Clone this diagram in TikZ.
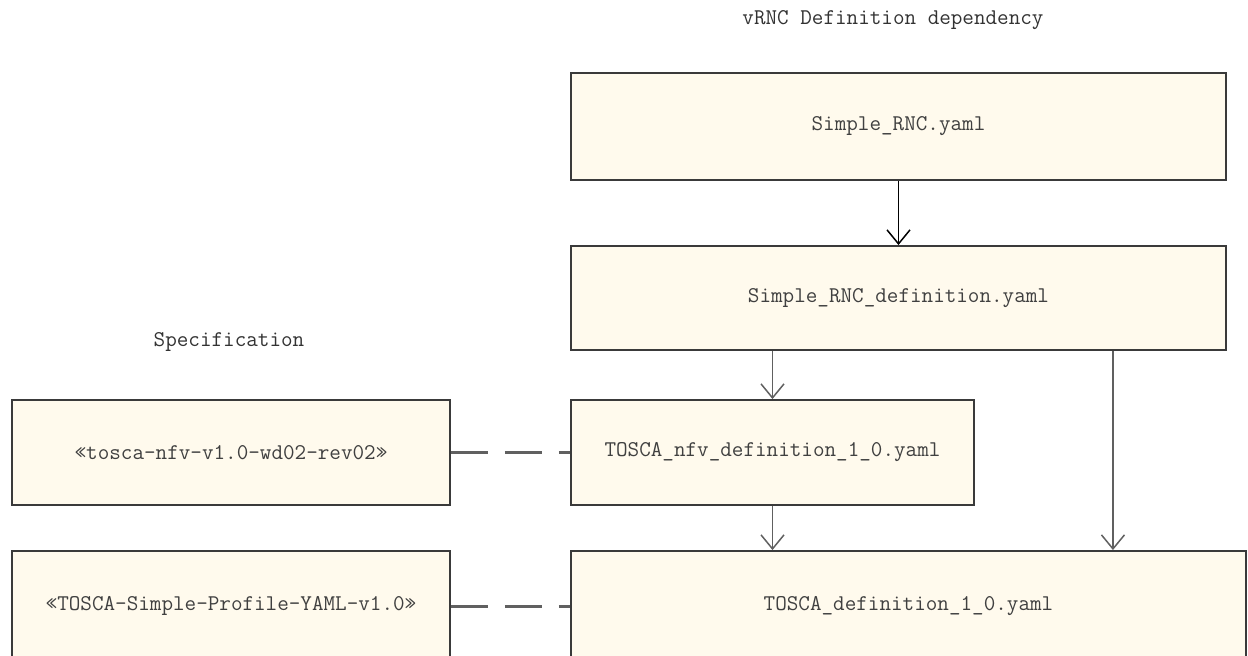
\documentclass[tikz,border=0pt]{standalone}
\usepackage{fontspec}
\usetikzlibrary{arrows.meta}
\definecolor{boxfill}{RGB}{255,250,237}
\definecolor{boxline}{RGB}{58,58,58}
\definecolor{linkgray}{RGB}{96,96,96}
\definecolor{txtgray}{RGB}{64,64,64}
\begin{document}
\begin{tikzpicture}[x=0.02cm, y=-0.02cm,
file/.style={draw=boxline, line width=1.1pt, fill=boxfill, text=txtgray, inner sep=0pt,
  font=\ttfamily\fontsize{12.8}{15}\selectfont},
head/.style={text=black!80, font=\ttfamily\fontsize{12.8}{15}\selectfont},
dep/.style={-{Straight Barb[length=0.28cm, width=0.46cm]}, line width=0.85pt, draw=linkgray},
spec/.style={draw=linkgray, line width=1.7pt, dash pattern=on 0.74cm off 0.34cm}]
\useasboundingbox (0,0) rectangle (1248,656);
\clip (0,0) rectangle (1248,656);
\fill[white] (0,0) rectangle (1248,656);
% titles
\node[head] (deptitle) at (893,20) {vRNC Definition dependency};
\node[head] (spectitle) at (229,342) {Specification};
% yaml files
\node[file, minimum width=13.1cm, minimum height=2.14cm] (rnc) at (898.5,126.5) {Simple\_RNC.yaml};
\node[file, minimum width=13.1cm, minimum height=2.08cm] (rncdef) at (898.5,298) {Simple\_RNC\_definition.yaml};
\node[file, minimum width=8.06cm, minimum height=2.1cm] (nfvdef) at (772.5,452.5) {TOSCA\_nfv\_definition\_1\_0.yaml};
\node[file, minimum width=13.5cm, minimum height=2.2cm] (toscadef) at (908.5,606) {TOSCA\_definition\_1\_0.yaml};
% specifications
\node[file, minimum width=8.76cm, minimum height=2.1cm] (nfvspec) at (231,452.5) {«tosca-nfv-v1.0-wd02-rev02»};
\node[file, minimum width=8.76cm, minimum height=2.2cm] (simplespec) at (231,606) {«TOSCA-Simple-Profile-YAML-v1.0»};
% dependencies
\draw[dep, draw=black] (rnc.south) -- (rncdef.north);
\draw[dep] (rncdef.south -| nfvdef.north) -- (nfvdef.north);
\draw[dep] (nfvdef.south) -- (toscadef.north -| nfvdef.south);
\coordinate (rside) at ([xshift=4.29cm]rncdef.south);
\draw[dep] (rside) -- (rside |- toscadef.north);
% links to the specifications
\draw[spec] (nfvspec.east) -- (nfvdef.west);
\draw[spec] (simplespec.east) -- (simplespec.east -| toscadef.west);
\end{tikzpicture}
\end{document}
